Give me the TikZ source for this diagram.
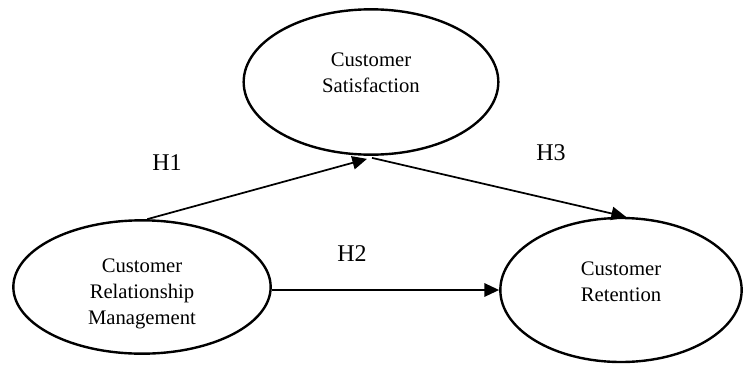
\documentclass[tikz,border=0pt]{standalone}
\usepackage{fontspec}
\setmainfont{Liberation Serif}
\usetikzlibrary{shapes.geometric,arrows.meta}
\begin{document}
\begin{tikzpicture}[x=0.75pt,y=-0.75pt,
  construct/.style={draw,ellipse,line width=1.8pt,inner sep=0pt},
  ctext/.style={align=center,font=\fontsize{15.5}{19.5}\selectfont},
  arr/.style={line width=1.3pt,-{Triangle[length=11pt,width=10pt]}},
  hyp/.style={font=\fontsize{18}{22}\selectfont}]
\useasboundingbox (0,0) rectangle (747,365);
\node[construct,minimum width=191pt,minimum height=109pt,
  label={[ctext,yshift=6.75pt]center:Customer\\Satisfaction}] (sat) at (371,82) {};
\node[construct,minimum width=193pt,minimum height=100pt,
  label={[ctext,yshift=-5.25pt]center:Customer\\Relationship\\Management}] (crm) at (142,287) {};
\node[construct,minimum width=181pt,minimum height=108pt,
  label={[ctext,yshift=6pt]center:Customer\\Retention}] (ret) at (621,290) {};
\node[hyp] (h1) at (167,163) {H1};
\node[hyp] (h2) at (352,254) {H2};
\node[hyp] (h3) at (551,153) {H3};
\draw[arr] ([xshift=4pt]crm.north) -- ([shift={(-4,3)}]sat.south);
\draw[arr] ([shift={(1,2)}]sat.south) -- ([shift={(5,0)}]ret.north);
\draw[arr] (crm.east |- ret.west) -- (ret.west);
\end{tikzpicture}
\end{document}
